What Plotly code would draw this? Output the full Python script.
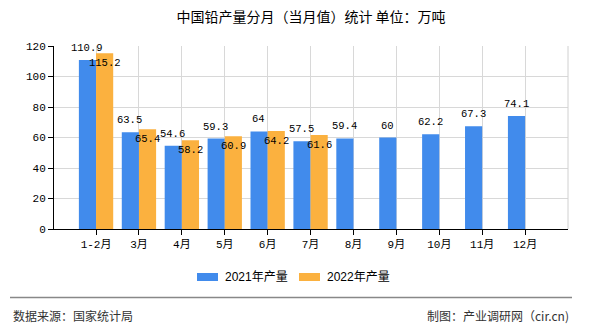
import plotly.graph_objects as go

categories = ["1-2月", "3月", "4月", "5月", "6月", "7月", "8月", "9月", "10月", "11月", "12月"]
prod_2021 = [110.9, 63.5, 54.6, 59.3, 64, 57.5, 59.4, 60, 62.2, 67.3, 74.1]
prod_2022 = [115.2, 65.4, 58.2, 60.9, 64.2, 61.6, None, None, None, None, None]
series_names = ["2021年产量", "2022年产量"]
y_ticks = [0, 20, 40, 60, 80, 100, 120]

BLUE = "#418BEC"
ORANGE = "#FBB13F"
W, H = 590, 330
L, R, T, B = 54, 22, 46, 101
PW, PH = W - L - R, H - T - B
MONO = "Liberation Mono, Noto Sans CJK SC, monospace"
CJK = "Noto Sans CJK SC, sans-serif"


def px_x(px):
    return (px - L) / PW


def px_y(py):
    return (H - B - py) / PH


fig = go.Figure()
fig.add_trace(go.Bar(x=categories, y=prod_2021, name=series_names[0],
                     marker=dict(color=BLUE, line=dict(width=0)), showlegend=False))
fig.add_trace(go.Bar(x=categories, y=prod_2022, name=series_names[1],
                     marker=dict(color=ORANGE, line=dict(width=0)), showlegend=False))

annotations = []
for c, v in zip(categories, prod_2021):
    if v is None:
        continue
    annotations.append(dict(x=c, y=v, xref="x", yref="y", text=f"{v:g}", showarrow=False,
                            xshift=-9, yshift=12, font=dict(family=MONO, size=10.5, color="#000")))
for c, v in zip(categories, prod_2022):
    if v is None:
        continue
    annotations.append(dict(x=c, y=v, xref="x", yref="y", text=f"{v:g}", showarrow=False,
                            xshift=9, yshift=-10, font=dict(family=MONO, size=10.5, color="#000")))

# custom legend
legend_items = [(series_names[0], BLUE, 197), (series_names[1], ORANGE, 299)]
shapes = []
for name, col, x0 in legend_items:
    shapes.append(dict(type="rect", xref="paper", yref="paper",
                       x0=px_x(x0), x1=px_x(x0 + 21), y0=px_y(281), y1=px_y(273),
                       fillcolor=col, line=dict(width=0)))
    annotations.append(dict(x=px_x(x0 + 26), y=px_y(277), xref="paper", yref="paper",
                            text=name, showarrow=False, xanchor="left", yanchor="middle",
                            font=dict(family="Liberation Sans, Noto Sans CJK SC, sans-serif",
                                      size=12, color="#000")))

# right border of the grid
shapes.append(dict(type="line", xref="paper", yref="paper", x0=1, x1=1, y0=0, y1=1,
                   line=dict(color="#d0d0d0", width=1)))
# footer separator
shapes.append(dict(type="line", xref="paper", yref="paper", x0=px_x(10), x1=px_x(572),
                   y0=px_y(297.5), y1=px_y(297.5), line=dict(color="#888", width=1.5)))

annotations.append(dict(x=px_x(11), y=px_y(315), xref="paper", yref="paper",
                        text="数据来源：国家统计局", showarrow=False, xanchor="left",
                        yanchor="middle", font=dict(family=CJK, size=12, color="#333")))
annotations.append(dict(x=px_x(571), y=px_y(315), xref="paper", yref="paper",
                        text="制图：产业调研网（cir.cn)", showarrow=False, xanchor="right",
                        yanchor="middle", font=dict(family=CJK, size=12, color="#333")))

fig.update_layout(
    width=W, height=H,
    margin=dict(l=L, r=R, t=T, b=B, pad=0),
    paper_bgcolor="white", plot_bgcolor="white",
    barmode="group", bargap=0.2, bargroupgap=0,
    title=dict(text="中国铅产量分月（当月值）统计 单位：万吨", x=0.5, xref="paper",
               xanchor="center", y=1 - 17 / H, yref="container", yanchor="middle",
               font=dict(family=CJK, size=14, color="#000")),
    xaxis=dict(type="category", range=[-0.98, 11.0], showgrid=True, gridcolor="#d8d8d8",
               gridwidth=1, showline=True, linecolor="#000", linewidth=1,
               ticks="outside", ticklen=5, tickcolor="#000",
               tickfont=dict(family=MONO, size=11, color="#000"), zeroline=False),
    yaxis=dict(range=[0, 120], tickvals=y_ticks, showgrid=True, gridcolor="#d8d8d8",
               gridwidth=1, showline=True, linecolor="#000", linewidth=1,
               ticks="outside", ticklen=5, tickcolor="#000",
               tickfont=dict(family=MONO, size=11, color="#000"), zeroline=False),
    annotations=annotations,
    shapes=shapes,
    showlegend=False,
)

fig.write_html("out.html")
